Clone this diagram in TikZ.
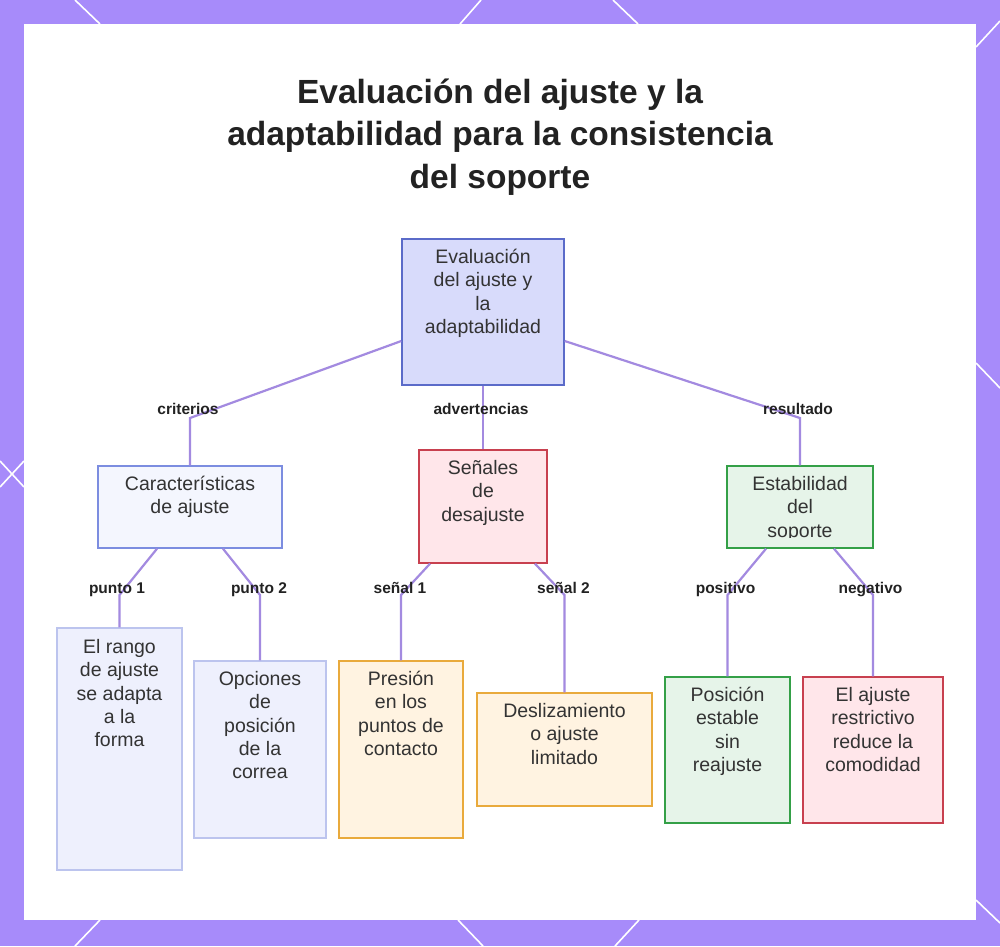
\documentclass[tikz,border=0pt]{standalone}
\usepackage{fontspec}
\setmainfont{Liberation Sans}
\usetikzlibrary{calc}
\definecolor{framec}{HTML}{A78BFA}
\definecolor{edgec}{HTML}{A38AE0}
\definecolor{txtc}{HTML}{333333}
\definecolor{labc}{HTML}{222222}
\definecolor{rootfill}{HTML}{D8DBFB}
\definecolor{rootdraw}{HTML}{5B6BC9}
\definecolor{carfill}{HTML}{F4F6FE}
\definecolor{cardraw}{HTML}{7C8DE0}
\definecolor{leaffill}{HTML}{EEF0FD}
\definecolor{leafdraw}{HTML}{BCC4EE}
\definecolor{redfill}{HTML}{FFE6EA}
\definecolor{reddraw}{HTML}{C8404F}
\definecolor{orfill}{HTML}{FFF3E1}
\definecolor{ordraw}{HTML}{E9AA3C}
\definecolor{grfill}{HTML}{E6F4E9}
\definecolor{grdraw}{HTML}{34A047}
\newcommand{\firstl}{\rule{0pt}{19pt}}
\begin{document}
\begin{tikzpicture}[x=1pt,y=-1pt,
  box/.style={draw, line width=1.4pt, inner sep=0pt},
  rootbox/.style={box, fill=rootfill, draw=rootdraw},
  carbox/.style={box, fill=carfill, draw=cardraw},
  leafbox/.style={box, fill=leaffill, draw=leafdraw},
  redbox/.style={box, fill=redfill, draw=reddraw},
  orbox/.style={box, fill=orfill, draw=ordraw},
  grbox/.style={box, fill=grfill, draw=grdraw},
  txt/.style={anchor=north, align=center, inner sep=0pt, text=txtc, font=\fontsize{19.5}{23.3}\selectfont},
  lab/.style={anchor=base, inner sep=0pt, text=labc, font=\fontsize{15.5}{18}\selectfont\bfseries},
  edge/.style={draw=edgec, line width=2.2pt},
  deco/.style={draw=white, line width=1.6pt}
]
\useasboundingbox (0,0) rectangle (1000,946);
% frame
\fill[framec] (0,0) rectangle (1000,946);
\fill[white] (24,24) rectangle (976,920);
\draw[deco] (75,0) -- (100,24);
\draw[deco] (481,0) -- (460,24);
\draw[deco] (613,0) -- (638,24);
\draw[deco] (1000,21) -- (976,47);
\draw[deco] (976,363) -- (1000,388);
\draw[deco] (0,461) -- (24,487);
\draw[deco] (0,487) -- (24,461);
\draw[deco] (100,920) -- (75,946);
\draw[deco] (458,920) -- (483,946);
\draw[deco] (639,920) -- (615,946);
\draw[deco] (976,900) -- (1000,923);

% title
\node[anchor=north, align=center, inner sep=0pt, text=labc, font=\fontsize{33.5}{42.5}\selectfont\bfseries] (title) at (500,73)
  {\rule{0pt}{30pt}Evaluación del ajuste y la\\adaptabilidad para la consistencia\\del soporte};

% boxes
\node[rootbox, minimum width=162pt, minimum height=146pt] (root) at (483,312) {};
\node[carbox, minimum width=184pt, minimum height=82pt] (car) at (190,507) {};
\node[redbox, minimum width=128pt, minimum height=113pt] (sen) at (483,506.5) {};
\node[grbox, minimum width=146pt, minimum height=82pt] (est) at (800,507) {};
\node[leafbox, minimum width=125pt, minimum height=242pt] (rango) at (119.5,749) {};
\node[leafbox, minimum width=132pt, minimum height=177pt] (opc) at (260,749.5) {};
\node[orbox, minimum width=124pt, minimum height=177pt] (pres) at (401,749.5) {};
\node[orbox, minimum width=175pt, minimum height=113pt] (desl) at (564.5,749.5) {};
\node[grbox, minimum width=125pt, minimum height=146pt] (pos) at (727.5,750) {};
\node[redbox, minimum width=140pt, minimum height=146pt] (aj) at (873,750) {};

% texts
\node[txt] (rootT) at ($(root.north)+(0,6)$) {\firstl Evaluación\\del ajuste y\\la\\adaptabilidad};
\node[txt] (carT) at ($(car.north)+(0,6)$) {\firstl Características\\de ajuste};
\node[txt] (senT) at ($(sen.north)+(0,6)$) {\firstl Señales\\de\\desajuste};
\begin{scope}
\clip (727,466) rectangle (873,537);
\node[txt] (estT) at ($(est.north)+(0,6)$) {\firstl Estabilidad\\del\\soporte};
\end{scope}
\node[txt] (rangoT) at ($(rango.north)+(0,7)$) {\firstl El rango\\de ajuste\\se adapta\\a la\\forma};
\node[txt] (opcT) at ($(opc.north)+(0,6)$) {\firstl Opciones\\de\\posición\\de la\\correa};
\node[txt] (presT) at ($(pres.north)+(0,6)$) {\firstl Presión\\en los\\puntos de\\contacto};
\node[txt] (deslT) at ($(desl.north)+(0,6)$) {\firstl Deslizamiento\\o ajuste\\limitado};
\node[txt] (posT) at ($(pos.north)+(0,6)$) {\firstl Posición\\estable\\sin\\reajuste};
\node[txt] (ajT) at ($(aj.north)+(0,6)$) {\firstl El ajuste\\restrictivo\\reduce la\\comodidad};

% connectors
\draw[edge] ([yshift=-29pt]root.west) -- (car.north |- 0,418) -- (car.north);
\draw[edge] (root.south) -- (sen.north);
\draw[edge] ([yshift=-29pt]root.east) -- (est.north |- 0,418) -- (est.north);
\draw[edge] ([xshift=-33pt]car.south) -- (rango.north |- 0,595) -- (rango.north);
\draw[edge] ([xshift=33pt]car.south) -- (opc.north |- 0,595) -- (opc.north);
\draw[edge] ([xshift=-53pt]sen.south) -- (pres.north |- 0,595) -- (pres.north);
\draw[edge] ([xshift=52pt]sen.south) -- (desl.north |- 0,595) -- (desl.north);
\draw[edge] ([xshift=-34pt]est.south) -- (pos.north |- 0,595) -- (pos.north);
\draw[edge] ([xshift=34pt]est.south) -- (aj.north |- 0,595) -- (aj.north);

% labels
\node[lab] (l1) at (188,414) {criterios};
\node[lab] (l2) at (481,414) {advertencias};
\node[lab] (l3) at (798,414) {resultado};
\node[lab] (l4) at (117,593) {punto 1};
\node[lab] (l5) at (259,593) {punto 2};
\node[lab] (l6) at (400,593) {señal 1};
\node[lab] (l7) at (563.5,593) {señal 2};
\node[lab] (l8) at (725.5,593) {positivo};
\node[lab] (l9) at (870.5,593) {negativo};
\end{tikzpicture}
\end{document}
